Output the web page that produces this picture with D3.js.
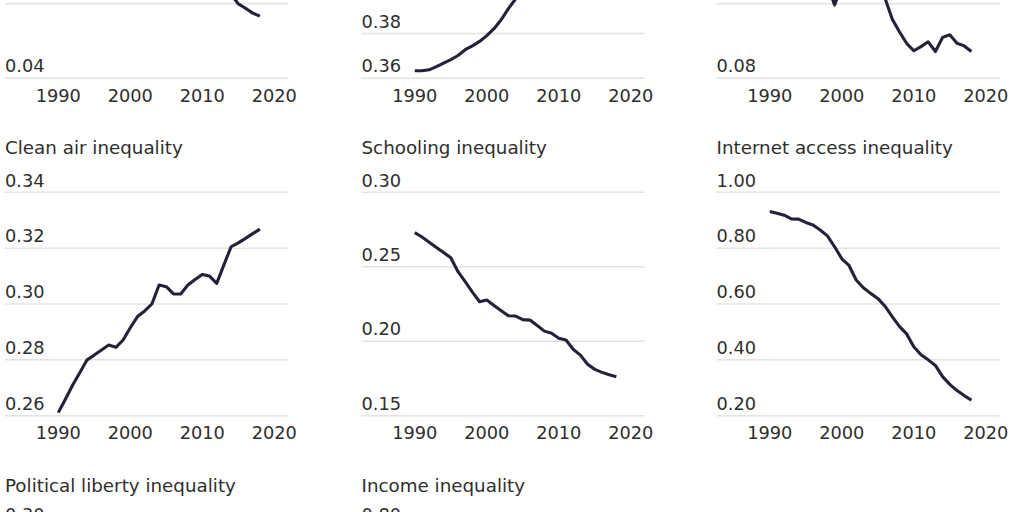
<!DOCTYPE html>
<html><head><meta charset="utf-8">
<script src="https://cdn.jsdelivr.net/npm/d3@7"></script>
<style>body{margin:0;background:#fff;overflow:hidden} svg{display:block}</style>
</head><body><svg id="c" width="1024" height="512"></svg>
<script>
// ---------- DATA ----------
const years = [1990,1991,1992,1993,1994,1995,1996,1997,1998,1999,2000,2001,2002,2003,2004,
               2005,2006,2007,2008,2009,2010,2011,2012,2013,2014,2015,2016,2017,2018];
const xTicks = [1990, 2000, 2010, 2020];

const titles = [null, null, null,
  "Clean air inequality", "Schooling inequality", "Internet access inequality",
  "Political liberty inequality", "Income inequality"];

// top row (mostly cropped out of view)
const topLeftValues = [0.083,0.084,0.085,0.086,0.086,0.087,0.087,0.086,0.085,0.084,0.083,0.082,0.081,0.080,0.078,
  0.077,0.075,0.073,0.072,0.070,0.069,0.067,0.066,0.065,0.0625,0.0600,0.0588,0.0575,0.0567];
const topMidValues = [0.3634,0.3634,0.3638,0.3652,0.3668,0.3684,0.3702,0.3728,0.3745,0.3765,0.3791,0.3822,0.3862,0.3912,0.3955,
  0.400,0.404,0.408,0.412,0.415,0.417,0.419,0.420,0.421,0.421,0.422,0.422,0.422,0.423];
const topRightValues = [0.118,0.117,0.116,0.115,0.113,0.112,0.110,0.108,0.105,0.0997,0.105,0.108,0.110,0.111,0.110,
  0.107,0.1015,0.0959,0.0925,0.0894,0.0874,0.0885,0.0898,0.0872,0.0910,0.0917,0.0894,0.0887,0.0872];
// middle row
const cleanAir = [0.2611,0.2660,0.2710,0.2755,0.2800,0.2817,0.2835,0.2853,0.2845,0.2871,0.2915,0.2955,0.2975,0.3000,0.3068,
  0.3062,0.3036,0.3036,0.3068,0.3088,0.3106,0.3100,0.3074,0.3140,0.3205,0.3219,0.3235,0.3252,0.3268];
const schooling = [0.2729,0.2700,0.2665,0.2630,0.2595,0.2561,0.2467,0.2400,0.2330,0.2265,0.2277,0.2240,0.2205,0.2171,0.2169,
  0.2145,0.2142,0.2105,0.2068,0.2053,0.2020,0.2008,0.1946,0.1907,0.1845,0.1811,0.1791,0.1775,0.1762];
const internet = [0.931,0.925,0.918,0.905,0.904,0.892,0.883,0.865,0.844,0.805,0.762,0.738,0.686,0.658,0.638,
  0.620,0.592,0.555,0.520,0.493,0.447,0.418,0.400,0.380,0.340,0.312,0.290,0.272,0.256];

const yTicksTopLeft = [0.04,0.06,0.08,0.10];
const yTicksTopMid = [0.36,0.38,0.40,0.42,0.44,0.46];
const yTicksTopRight = [0.08,0.10,0.12,0.14];
const yTicksCleanAir = [0.26,0.28,0.30,0.32,0.34];
const yTicksSchooling = [0.15,0.20,0.25,0.30];
const yTicksInternet = [0.20,0.40,0.60,0.80,1.00];
const yTicksPolitical = [0.22,0.30];
const yTicksIncome = [0.60,0.80];

const panelValues = [topLeftValues, topMidValues, topRightValues, cleanAir, schooling, internet, null, null];
const panelTicks = [yTicksTopLeft, yTicksTopMid, yTicksTopRight, yTicksCleanAir, yTicksSchooling, yTicksInternet, yTicksPolitical, yTicksIncome];

// ---------- LAYOUT ----------
const W = 1024, H = 512;
const colX = [5, 361.5, 716.5];
const rowGridTop = [-145.1, 192.3, 527];
const rowTitleY = [-183.4, 154, 491.5];
const plotH = 223.4, gridW = 283.3;
const xL = 53.3, xR = 269.3;
const FONT = "'DejaVu Sans', sans-serif";
const TXT = "#2e2e2e", GRID = "#e3e3e3", LINE = "#25213b";
const TICK_FS = 17.8, CAP = 13;

const svg = d3.select("#c");
const fmt = d3.format(".2f");

panelValues.forEach((vals, i) => {
  const col = i % 3, row = Math.floor(i / 3);
  const ticks = panelTicks[i];
  const oy = rowGridTop[row];
  const g = svg.append("g").attr("transform", `translate(${colX[col]},${oy})`);
  const x = d3.scaleLinear().domain([1990, 2020]).range([xL, xR]);
  const y = d3.scaleLinear().domain(d3.extent(ticks)).range([plotH, 0]);

  if (titles[i]) {
    svg.append("text").attr("x", colX[col]).attr("y", rowTitleY[row])
      .attr("font-family", FONT).attr("font-size", 18.3).attr("fill", TXT)
      .text(titles[i]);
  }

  // gridlines
  g.selectAll("line.grid").data(ticks).join("line").attr("class","grid")
    .attr("x1", 0).attr("x2", gridW)
    .attr("y1", d => y(d)).attr("y2", d => y(d))
    .attr("stroke", GRID).attr("stroke-width", 1.5);

  // y labels (only those that reach into the visible window)
  const visTicks = ticks.filter(d => {
    const base = oy + y(d) - 5.8;
    return base > 0 && base - CAP < H;
  });
  g.selectAll("text.yt").data(visTicks).join("text").attr("class","yt")
    .attr("x", 0).attr("y", d => y(d) - 5.8)
    .attr("font-family", FONT).attr("font-size", TICK_FS).attr("fill", TXT)
    .text(d => fmt(d));

  // x axis labels
  if (oy + plotH + 23.5 < H + CAP) {
    g.selectAll("text.xt").data(xTicks).join("text").attr("class","xt")
      .attr("x", d => x(d)).attr("y", plotH + 23.5)
      .attr("text-anchor", "middle")
      .attr("font-family", FONT).attr("font-size", TICK_FS).attr("fill", TXT)
      .text(d => d);
  }

  if (vals) {
    const line = d3.line().x((d, k) => x(years[k])).y(d => y(d));
    g.append("path").datum(vals).attr("d", line)
      .attr("fill", "none").attr("stroke", LINE).attr("stroke-width", 3.1)
      .attr("stroke-linejoin", "round").attr("stroke-linecap", "butt");
  }
});
</script>
</body></html>
